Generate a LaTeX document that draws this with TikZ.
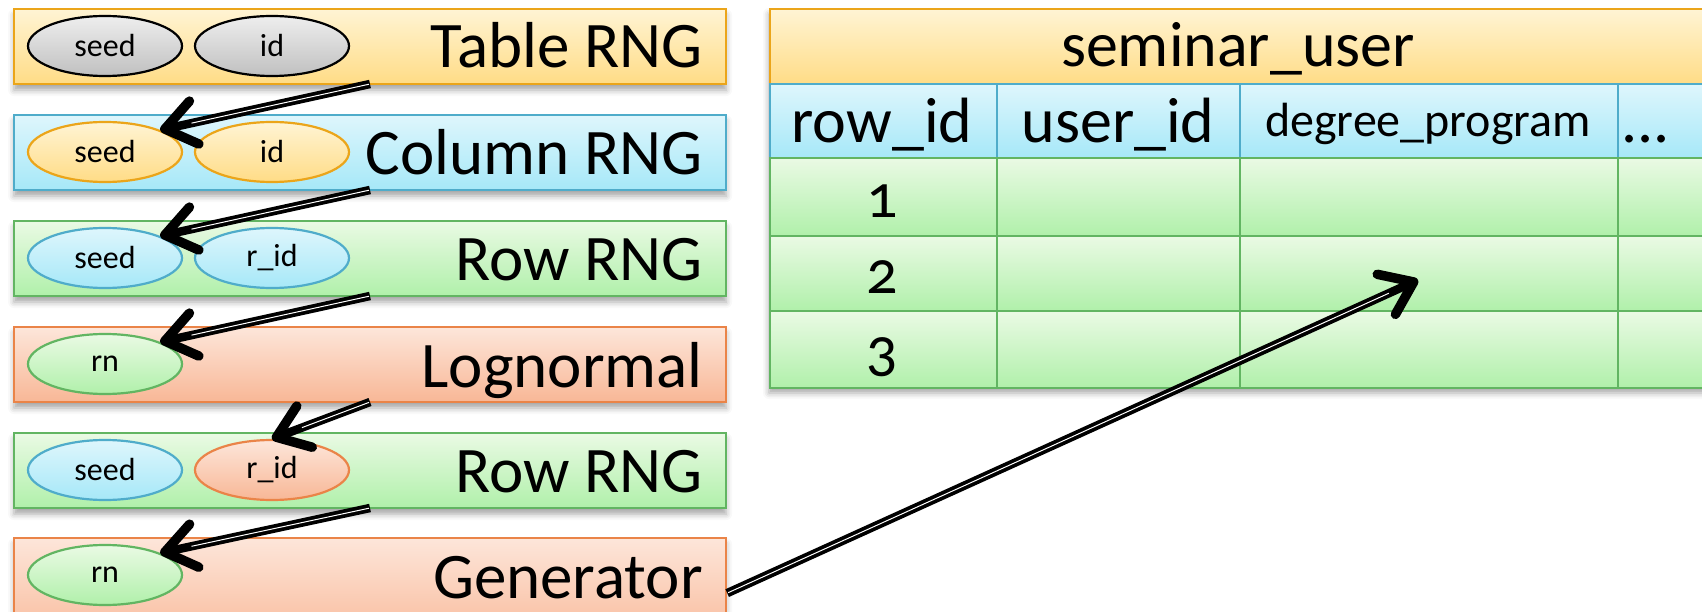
\documentclass[tikz,border=0pt]{standalone}
\usepackage{fontspec}
\setmainfont{Carlito}
\newfontfamily\numfont[Numbers=OldStyle]{Carlito}
\usetikzlibrary{shapes.geometric,arrows.meta,shadows.blur}

\definecolor{yelT}{HTML}{FFF4D4}
\definecolor{yelB}{HTML}{FFDC86}
\definecolor{yelD}{HTML}{EBA51A}
\definecolor{bluT}{HTML}{DEF6FC}
\definecolor{bluB}{HTML}{A6E8F8}
\definecolor{bluD}{HTML}{4FACCA}
\definecolor{grnT}{HTML}{EAFAE4}
\definecolor{grnB}{HTML}{B0F0AA}
\definecolor{grnD}{HTML}{62B562}
\definecolor{salT}{HTML}{FDE6DA}
\definecolor{salB}{HTML}{F8B796}
\definecolor{salD}{HTML}{EA8448}
\definecolor{gryT}{HTML}{EEEEEE}
\definecolor{gryB}{HTML}{C0C0C0}

\tikzset{
  shad/.style={blur shadow={shadow xshift=0pt, shadow yshift=-6pt, shadow opacity=35, shadow blur radius=6pt}},
  panel/.style={rectangle, anchor=north west, minimum width=712pt, minimum height=75pt, inner sep=0pt, line width=2.2pt, shad},
  yelbox/.style={draw=yelD, top color=yelT, bottom color=yelB},
  blubox/.style={draw=bluD, top color=bluT, bottom color=bluB},
  grnbox/.style={draw=grnD, top color=grnT, bottom color=grnB},
  salbox/.style={draw=salD, top color=salT, bottom color=salB},
  gryox/.style={draw=black, top color=gryT, bottom color=gryB},
  oval/.style={ellipse, minimum width=154pt, minimum height=60pt, inner sep=0pt, line width=2.2pt, font=\fontsize{32}{36}\selectfont},
  biglabel/.style={anchor=base east, inner sep=0pt, font=\fontsize{65}{70}\selectfont},
  cell/.style={rectangle, anchor=north west, inner sep=0pt, line width=2.2pt},
  hdrlabel/.style={anchor=base, inner sep=0pt, font=\fontsize{64}{70}\selectfont},
  numlabel/.style={anchor=base, inner sep=0pt, font=\numfont\fontsize{62}{70}\selectfont},
  arr/.style={line width=8.5pt, black, -{Straight Barb[length=30pt, width=44pt, line width=9.5pt, round]}},
  arrin/.style={white, line width=1pt, shorten >=32pt, shorten <=1pt, yshift=-2.2pt},
}

\begin{document}
\begin{tikzpicture}[x=1pt,y=-1pt]
\useasboundingbox (0,0) rectangle (1702,612);
\clip (0,0) rectangle (1702,612);

% ---------- left panels ----------
\node[panel, yelbox] (tab) at (13,8) {};
\node[panel, blubox] (col) at (13,114) {};
\node[panel, grnbox] (rowa) at (13,220) {};
\node[panel, salbox] (logn) at (13,326) {};
\node[panel, grnbox] (rowb) at (13,432) {};
\node[panel, salbox, minimum height=110pt] (gen) at (13,537) {};

\node[biglabel] (ltab) at (703,68) {Table RNG};
\node[biglabel] (lcol) at (703,175) {Column RNG};
\node[biglabel] (lrowa) at (703,280) {Row RNG};
\node[biglabel] (llogn) at (703,387) {Lognormal};
\node[biglabel] (lrowb) at (703,492) {Row RNG};
\node[biglabel] (lgen) at (703,598) {Generator};

% ovals
\node[oval, gryox] (tseed) at (105,46) {seed};
\node[oval, gryox] (tid) at (272,46) {id};
\node[oval, yelbox] (cseed) at (105,152) {seed};
\node[oval, yelbox] (cid) at (272,152) {id};
\node[oval, blubox] (raseed) at (105,258) {seed};
\node[oval, blubox] (raid) at (272,258) {r\_id};
\node[oval, grnbox] (lrn) at (105,364) {rn};
\node[oval, blubox] (rbseed) at (105,470) {seed};
\node[oval, salbox] (rbid) at (272,470) {r\_id};
\node[oval, grnbox] (grn) at (105,575) {rn};

% ---------- table ----------
\path[fill=grnB, shad] (769,8) rectangle (1720,387);
\node[cell, yelbox, minimum width=950pt, minimum height=75pt] (hdr) at (769,8) {};
\node[cell, blubox, minimum width=227pt, minimum height=74pt] (h1) at (769,83) {};
\node[cell, blubox, minimum width=243pt, minimum height=74pt] (h2) at (996,83) {};
\node[cell, blubox, minimum width=378pt, minimum height=74pt] (h3) at (1239,83) {};
\node[cell, blubox, minimum width=110pt, minimum height=74pt] (h4) at (1617,83) {};
\foreach \r/\y/\h in {1/157/78, 2/235/75, 3/310/77}{
  \node[cell, grnbox, minimum width=227pt, minimum height=\h pt] (d\r a) at (769,\y) {};
  \node[cell, grnbox, minimum width=243pt, minimum height=\h pt] (d\r b) at (996,\y) {};
  \node[cell, grnbox, minimum width=378pt, minimum height=\h pt] (d\r c) at (1239,\y) {};
  \node[cell, grnbox, minimum width=110pt, minimum height=\h pt] (d\r d) at (1617,\y) {};
}

\node[hdrlabel] (thdr) at (1238,67) {seminar\_user};
\node[hdrlabel] (th1) at (882,143) {row\_id};
\node[hdrlabel] (th2) at (1118,143) {user\_id};
\node[hdrlabel, font=\fontsize{48}{54}\selectfont] (th3) at (1428,137) {degree\_program};
\node[hdrlabel, anchor=base west] (th4) at (1621,143) {...};
\node[numlabel] (n1) at (882,218) {1};
\node[numlabel] (n2) at (882,294) {2};
\node[numlabel] (n3) at (882,370) {3};

% ---------- arrows ----------
\coordinate (s1) at (370,84);
\coordinate (s2) at (370,190);
\coordinate (s3) at (370,296);
\coordinate (s4) at (370,402);
\coordinate (s5) at (370,508);
\coordinate (tgt) at (1418,280);

\draw[arr] (s1) -- (cseed.north east);
\draw[arrin] (s1) -- (cseed.north east);
\draw[arr] (s2) -- (raseed.north east);
\draw[arrin] (s2) -- (raseed.north east);
\draw[arr] (s3) -- (lrn.north east);
\draw[arrin] (s3) -- (lrn.north east);
\draw[arr] (s4) -- (rbid.north);
\draw[arrin] (s4) -- (rbid.north);
\draw[arr] (s5) -- (grn.north east);
\draw[arrin] (s5) -- (grn.north east);
\draw[arr] (gen.east) -- (tgt);
\draw[arrin] (gen.east) -- (tgt);
\end{tikzpicture}
\end{document}
